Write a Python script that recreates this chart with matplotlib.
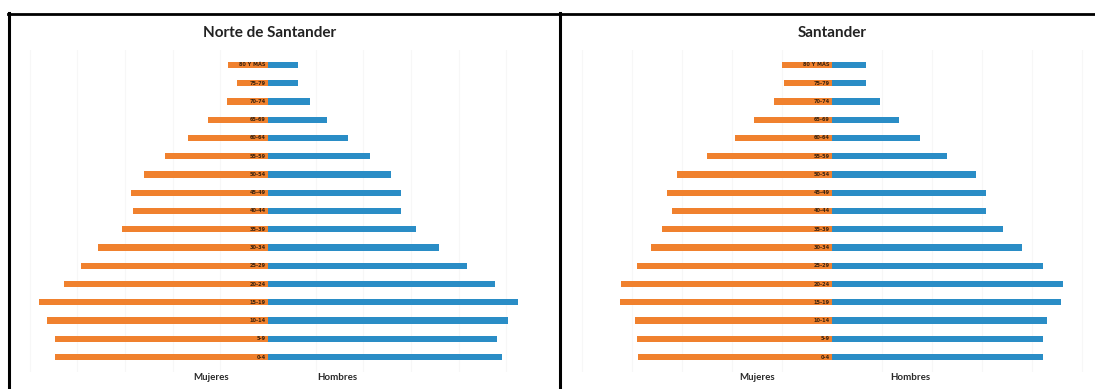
import matplotlib
matplotlib.use("Agg")
import matplotlib.pyplot as plt
from matplotlib.lines import Line2D

# ---------------- data (percent of population) ----------------
ages = ["0-4", "5-9", "10-14", "15-19", "20-24", "25-29", "30-34", "35-39",
        "40-44", "45-49", "50-54", "55-59", "60-64", "65-69", "70-74",
        "75-79", "80 Y MÁS"]

norte_mujeres = [4.47, 4.47, 4.64, 4.81, 4.28, 3.93, 3.57, 3.06, 2.83, 2.88,
                 2.60, 2.16, 1.68, 1.26, 0.86, 0.65, 0.84]
norte_hombres = [4.91, 4.81, 5.04, 5.25, 4.76, 4.18, 3.59, 3.11, 2.79, 2.79,
                 2.58, 2.14, 1.68, 1.24, 0.88, 0.63, 0.63]

sant_mujeres = [3.88, 3.90, 3.94, 4.24, 4.22, 3.90, 3.62, 3.40, 3.20, 3.30,
                3.10, 2.50, 1.94, 1.56, 1.16, 0.96, 1.00]
sant_hombres = [4.22, 4.22, 4.30, 4.58, 4.62, 4.22, 3.80, 3.42, 3.08, 3.08,
                2.88, 2.30, 1.76, 1.34, 0.96, 0.68, 0.68]

titles = ["Norte de Santander", "Santander"]
sex_labels = ["Mujeres", "Hombres"]

ORANGE = "#F0812E"
BLUE = "#2A8DC6"

W, H = 1095, 389
fig = plt.figure(figsize=(W / 100, H / 100), dpi=100)
fig.patch.set_facecolor("white")

def px_axes(x0, y0, x1, y1):
    # pixel box (top-left origin) -> figure fraction
    return fig.add_axes([x0 / W, 1 - y1 / H, (x1 - x0) / W, (y1 - y0) / H])

def draw_panel(ax_box, xlim, muj, hom, title, title_x, muj_x, hom_x):
    x0, y0, x1, y1 = ax_box
    ax = px_axes(x0, y0, x1, y1)
    n = len(ages)
    ys = list(range(n))
    for g in range(1, 6):
        for s in (-1, 1):
            ax.axvline(s * g, color="#f7f7f7", lw=0.8, zorder=0)
    ax.barh(ys, [-v for v in muj], height=0.35, color=ORANGE, zorder=2)
    ax.barh(ys, hom, height=0.35, color=BLUE, zorder=2)
    for yv, lab in zip(ys, ages):
        ax.text(-0.05, yv, lab, ha="right", va="center", fontsize=3.6,
                fontweight="bold", color="#3b2410", zorder=3,
                family="DejaVu Sans")
    ax.set_xlim(*xlim)
    ax.set_ylim(-0.82, n - 1 + 0.82)
    ax.axis("off")
    fig.text(title_x / W, 1 - 33 / H, title, ha="center", va="center",
             fontsize=11, fontweight="bold", color="#222222", family="Lato")
    fig.text(muj_x / W, 1 - 378 / H, sex_labels[0], ha="center", va="center",
             fontsize=7, fontweight="bold", color="#2a2a2a", family="Lato")
    fig.text(hom_x / W, 1 - 378 / H, sex_labels[1], ha="center", va="center",
             fontsize=7, fontweight="bold", color="#2a2a2a", family="Lato")

# Norte de Santander: centre at x=268 px, 47.64 px per %
draw_panel((23, 50, 548, 372), (-(268 - 23) / 47.64, (548 - 268) / 47.64),
           norte_mujeres, norte_hombres, titles[0], 270, 211, 337)
# Santander: centre at x=832 px, 49.98 px per %
draw_panel((575, 50, 1093, 372), (-(832 - 575) / 49.98, (1093 - 832) / 49.98),
           sant_mujeres, sant_hombres, titles[1], 832, 757, 910)

# table borders
fig.add_artist(Line2D([8 / W, 1], [1 - 13.5 / H] * 2, color="black", lw=2.0,
                      transform=fig.transFigure))
fig.add_artist(Line2D([9 / W] * 2, [0, 1 - 13 / H], color="black", lw=2.2,
                      transform=fig.transFigure))
fig.add_artist(Line2D([560 / W] * 2, [0, 1 - 13 / H], color="black", lw=2.2,
                      transform=fig.transFigure))

fig.savefig("out.png", dpi=100, facecolor="white")
